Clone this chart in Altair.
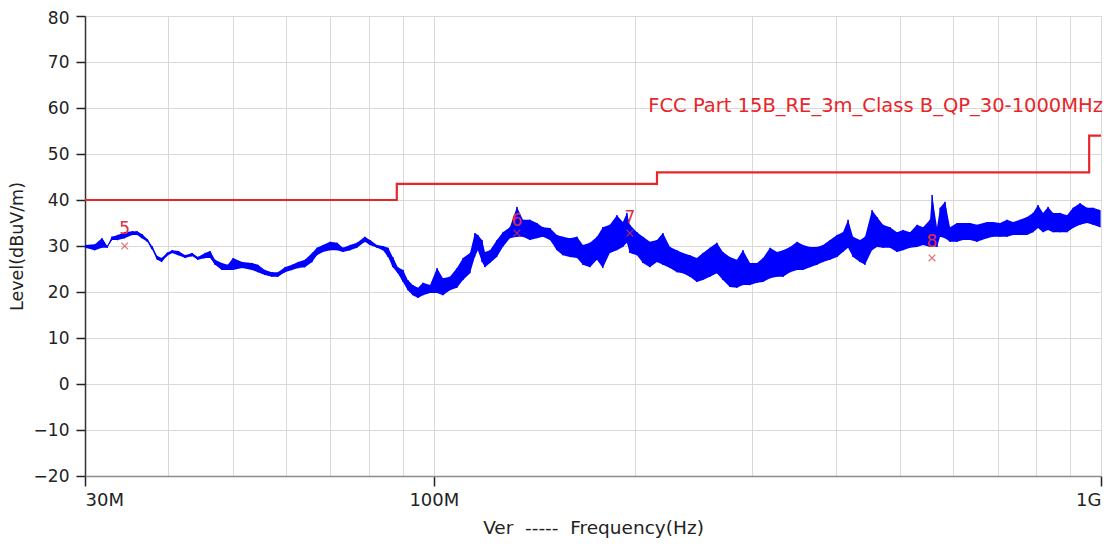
import altair as alt
import pandas as pd

# ---- measured trace (frequency in MHz, level envelope in dBuV/m) ----
trace_freq = [30.0, 31.05, 31.8, 32.4, 32.9, 33.6, 34.4, 35.3, 35.9, 36.5, 37.2, 37.8, 38.5, 39.1, 39.8,
              40.5, 41.4, 42.4, 43.4, 44.3, 45.4, 46.2, 47.0, 48.1, 49.1, 50.0, 51.6, 53.4, 54.5, 55.8,
              57.2, 58.4, 59.8, 61.3, 62.6, 64.1, 65.7, 66.8, 68.2, 69.9, 71.6, 73.1, 74.9, 76.7, 78.8,
              80.2, 82.2, 83.9, 85.4, 86.8, 88.3, 89.9, 91.4, 93.0, 94.7, 96.3, 98.7, 101.1, 103.2, 105.7,
              108.3, 110.6, 113.3, 115.2, 116.4, 118.1, 119.3, 121.4, 124.3, 126.9, 130.0, 133.2, 136.0,
              139.3, 142.7, 145.7, 149.3, 152.9, 156.1, 159.9, 163.9, 167.3, 171.4, 175.6, 179.2, 183.6,
              188.1, 192.0, 194.7, 196.7, 201.6, 205.8, 210.8, 216.0, 220.5, 225.9, 231.4, 236.2, 242.0,
              247.9, 253.1, 259.3, 265.6, 271.2, 277.8, 284.6, 290.6, 297.8, 305.1, 311.5, 319.1, 326.9,
              333.8, 341.9, 350.3, 357.6, 366.3, 375.3, 383.1, 392.5, 402.1, 410.5, 417.7, 424.9, 435.3,
              442.9, 453.7, 461.6, 471.3, 482.8, 494.6, 505.0, 517.3, 530.0, 541.1, 554.3, 558.1, 567.8,
              573.8, 583.7, 593.9, 608.4, 621.2, 636.3, 651.9, 674.8, 688.9, 705.8, 723.0, 738.2, 756.2,
              774.7, 790.9, 804.7, 818.7, 833.0, 847.5, 868.2, 889.4, 908.0, 930.2, 953.0, 972.9, 996.8]
trace_lo = [29.6, 29.1, 29.6, 29.6, 31.3, 31.3, 31.7, 32.4, 32.4, 31.7, 30.9, 29.3, 27.0, 26.5, 27.8,
            28.5, 28.0, 27.4, 27.8, 27.0, 27.4, 27.4, 25.9, 24.8, 24.8, 24.8, 25.2, 24.8, 24.3, 23.7,
            23.3, 23.3, 24.3, 24.8, 25.2, 25.4, 26.5, 28.0, 28.7, 29.1, 29.1, 28.7, 29.1, 29.6, 30.9,
            30.2, 29.6, 29.1, 27.6, 25.4, 24.1, 22.2, 20.4, 19.3, 18.7, 19.3, 19.8, 19.8, 19.3, 20.4,
            20.9, 22.6, 24.1, 27.6, 29.1, 26.5, 25.4, 26.3, 27.6, 29.8, 31.7, 32.0, 32.0,
            31.3, 31.7, 32.0, 31.3, 29.1, 28.0, 27.6, 27.4, 25.9, 25.4, 27.0, 25.2, 28.5,
            29.1, 29.8, 30.7, 28.5, 28.0, 26.3, 25.4, 26.5, 25.9, 25.2, 24.3, 24.1, 23.3,
            22.2, 22.6, 23.3, 24.1, 22.6, 21.1, 20.9, 21.5, 21.5, 22.0, 22.2, 23.0, 23.3,
            23.3, 24.3, 24.8, 24.8, 25.4, 25.9, 26.5, 27.0, 27.6, 28.7, 29.6, 27.6, 26.5,
            25.9, 29.1, 29.8, 29.6, 29.6, 28.7, 29.1, 29.6, 29.8, 30.2, 29.8, 30.0, 29.8,
            32.0, 31.7, 30.9, 30.9, 31.3, 31.3, 30.9, 31.7, 32.0, 32.0, 32.0, 32.4, 32.4,
            32.4, 33.0, 33.9, 33.0, 33.5, 33.0, 33.0, 33.0, 33.9, 34.6, 35.0, 34.6, 34.1]
trace_hi = [30.2, 30.4, 31.7, 30.0, 32.0, 32.4, 33.0, 33.2, 33.2, 32.6, 31.5, 30.0, 27.8, 27.4, 28.5,
            29.1, 28.9, 28.0, 28.5, 27.6, 28.5, 28.9, 27.0, 26.3, 25.9, 27.4, 26.5, 26.3, 25.9, 24.8,
            24.3, 24.3, 25.4, 25.9, 26.5, 27.0, 28.5, 29.6, 30.2, 30.9, 30.7, 29.6, 30.2, 30.7, 32.0,
            31.3, 30.2, 30.0, 29.6, 27.6, 25.4, 24.8, 22.6, 21.5, 20.9, 22.0, 21.5, 25.2, 23.0, 23.3,
            25.2, 27.4, 28.5, 32.8, 32.4, 31.3, 28.7, 29.1, 31.3, 33.0, 34.1, 38.5, 35.7,
            35.7, 35.0, 34.1, 33.9, 32.4, 32.0, 31.7, 32.0, 30.2, 30.7, 32.0, 34.1, 34.6,
            36.7, 35.2, 37.2, 34.6, 33.0, 32.0, 30.9, 31.3, 32.8, 29.8, 29.1, 28.5, 28.0,
            27.4, 28.5, 29.6, 30.7, 28.7, 27.6, 27.0, 29.1, 26.3, 26.3, 27.4, 29.6, 28.7,
            29.1, 29.8, 30.9, 30.2, 29.8, 29.8, 30.2, 31.3, 32.4, 33.0, 35.7, 32.0, 31.3,
            32.0, 37.8, 36.3, 34.6, 34.1, 33.0, 33.5, 33.0, 34.6, 34.1, 35.7, 41.1, 34.1,
            38.3, 39.6, 34.1, 35.0, 35.0, 35.0, 34.6, 35.2, 35.2, 35.0, 35.7, 35.2, 35.7,
            36.3, 37.2, 38.9, 37.2, 38.5, 37.2, 37.2, 36.7, 38.3, 39.3, 38.3, 38.3, 37.8]

# ---- limit line: FCC Part 15B Class B QP at 3 m ----
limit_freq = [30, 88, 88, 216, 216, 960, 960, 1000]
limit_level = [40, 40, 43.5, 43.5, 46, 46, 54, 54]
limit_name = "FCC Part 15B_RE_3m_Class B_QP_30-1000MHz"

# ---- markers ----
marker_id = ["5", "6", "7", "8"]
marker_freq = [34.4, 133.2, 196.7, 558.1]
marker_peak = [33.7, 35.4, 36.1, 30.9]
marker_qp = [30.0, 32.8, 32.8, 27.4]

# ---- axis ----
x_grid = [30, 40, 50, 60, 70, 80, 90, 100, 200, 300, 400, 500, 600, 700, 800, 900, 1000]
x_labelled = {30: "30M", 100: "100M", 1000: "1G"}
y_ticks = list(range(-20, 81, 10))
NB = "\u00a0"
x_title = f"Ver{NB*2}-----{NB*2}Frequency(Hz)"
y_title = "Level(dBuV/m)"

rows = []
k = 0
for f, lo, hi in zip(trace_freq, trace_lo, trace_hi):
    rows.append({"f": f, "v": lo, "o": k}); k += 1
    rows.append({"f": f, "v": hi, "o": k}); k += 1
trace_df = pd.DataFrame(rows)
band_df = pd.DataFrame({"f": trace_freq, "lo": trace_lo, "hi": trace_hi})
limit_df = pd.DataFrame({"f": limit_freq, "v": limit_level, "o": list(range(len(limit_freq)))})
marker_df = pd.DataFrame({"id": marker_id, "f": marker_freq, "peak": marker_peak, "qp": marker_qp})
label_df = pd.DataFrame({"f": [1000], "v": [60.4], "t": [limit_name]})

FONT = "DejaVu Sans"
label_expr = " : ".join([f"datum.value == {k} ? '{v}'" for k, v in x_labelled.items()]) + " : ''"
tick_test = " || ".join([f"datum.value == {k}" for k in x_labelled])

xscale = alt.Scale(type="log", domain=[30, 1000], nice=False, clamp=True)
yscale = alt.Scale(domain=[-20, 80], nice=False)

xaxis = alt.Axis(values=x_grid, labelExpr=label_expr, title=x_title,
                 grid=True, gridColor="#d9d9d9", gridWidth=1,
                 tickColor=alt.condition(tick_test, alt.value("#222222"), alt.value("transparent")),
                 tickSize=10, tickWidth=1.5, labelPadding=5,
                 domainColor="#8c8c8c", domainWidth=1.5,
                 labelFont=FONT, labelFontSize=18, labelColor="#222222",
                 titleFont=FONT, titleFontSize=18.5, titleFontWeight="normal", titleColor="#222222",
                 titlePadding=9)
yaxis = alt.Axis(values=y_ticks, title=y_title, grid=True, gridColor="#d9d9d9",
                 tickColor="#222222", tickSize=9, tickWidth=1.5, domainColor="#333333", domainWidth=1.5,
                 labelFont=FONT, labelFontSize=17, labelColor="#222222", labelPadding=7,
                 labelOffset=alt.condition("datum.value == 80", alt.value(2), alt.value(0)),
                 titleFont=FONT, titleFontSize=17.5, titleFontWeight="normal", titleColor="#222222",
                 titlePadding=7)

band = alt.Chart(band_df).mark_area(color="#0000ff", opacity=1, clip=True).encode(
    x=alt.X("f:Q", scale=xscale, axis=xaxis),
    y=alt.Y("lo:Q", scale=yscale, axis=yaxis),
    y2="hi:Q",
)
trace = alt.Chart(trace_df).mark_line(color="#0000ff", strokeWidth=1.0, clip=True).encode(
    x=alt.X("f:Q", scale=xscale),
    y=alt.Y("v:Q", scale=yscale),
    order="o:Q",
)
limit = alt.Chart(limit_df).mark_line(color="#e8262a", strokeWidth=2.2).encode(
    x=alt.X("f:Q", scale=xscale), y=alt.Y("v:Q", scale=yscale), order="o:Q"
)
limit_text = alt.Chart(label_df).mark_text(color="#e8262a", align="right", baseline="middle",
                                           font=FONT, fontSize=19.5, dx=2).encode(
    x=alt.X("f:Q", scale=xscale), y=alt.Y("v:Q", scale=yscale), text="t:N"
)
mk_text = alt.Chart(marker_df).mark_text(color="#e0303c", fontSize=17, font=FONT, baseline="middle").encode(
    x=alt.X("f:Q", scale=xscale), y=alt.Y("peak:Q", scale=yscale), text="id:N"
)
mk_x = alt.Chart(marker_df).mark_point(shape="M-1,-1L1,1M-1,1L1,-1", size=45, color="#d83a3a",
                                       strokeWidth=1.3, filled=False).encode(
    x=alt.X("f:Q", scale=xscale), y=alt.Y("qp:Q", scale=yscale)
)

chart = alt.layer(band, trace, limit, limit_text, mk_x, mk_text).properties(
    width=1016, height=460,
    autosize=alt.AutoSizeParams(type="none"),
    padding={"left": 77, "top": 8, "right": 8, "bottom": 64},
).configure_view(stroke="#777777", strokeWidth=1.5).configure(background="white")

chart.save("out.html", embed_options={"renderer": "svg", "actions": False})
